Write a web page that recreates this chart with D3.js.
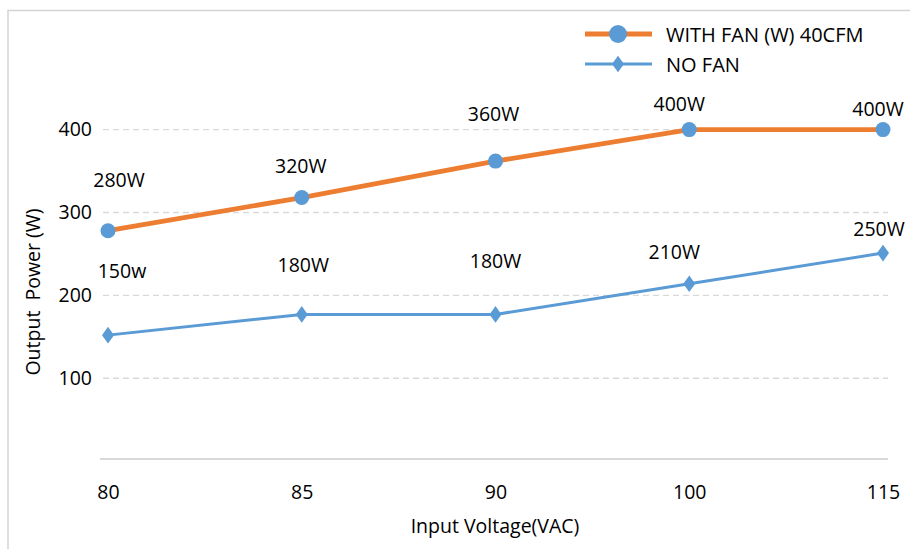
<!DOCTYPE html>
<html>
<head>
<meta charset="utf-8">
<script src="https://cdn.jsdelivr.net/npm/d3@7/dist/d3.min.js"></script>
<style>
  html, body { margin: 0; padding: 0; background: #fff; }
  svg { display: block; }
  text { font-family: "Open Sans", "Noto Sans", sans-serif; fill: #000; }
</style>
</head>
<body>
<svg id="chart" width="910" height="549"></svg>
<script>
// ---- data ----
const categories = ["80", "85", "90", "100", "115"];
const withFan = [278, 318, 362, 400, 400];
const noFan = [152, 177, 177, 214, 251];
const withFanLabels = ["280W", "320W", "360W", "400W", "400W"];
const noFanLabels = ["150w", "180W", "180W", "210W", "250W"];
const yTicks = [100, 200, 300, 400];
const seriesNames = ["WITH FAN (W) 40CFM", "NO FAN"];

// ---- layout (hand-placed label offsets, px) ----
const withFanLabelOffsets = [[11, -51], [-1, -32], [-2, -48], [-10, -26], [-5, -21]];
const noFanLabelOffsets = [[14, -65], [1.5, -50], [0, -54], [-15, -32], [-4, -25]];
const FS = 19.5;

const orange = "#ED7D31", blue = "#5B9BD5";
const svg = d3.select("#chart");

// border
svg.append("path").attr("d", "M8,549 V10.5 H910")
  .attr("fill", "none").attr("stroke", "#d4d4d4").attr("stroke-width", 1.5);

const x = d3.scalePoint().domain(categories).range([108, 883]);
const y = d3.scaleLinear().domain([0, 400]).range([461.1, 129.6]);

// gridlines
svg.append("g").selectAll("line").data(yTicks).join("line")
  .attr("x1", 103).attr("x2", 888)
  .attr("y1", d => y(d)).attr("y2", d => y(d))
  .attr("stroke", "#d9d9d9").attr("stroke-width", 1.3)
  .attr("stroke-dasharray", "6,4");

// y axis labels
const yAxis = d3.axisLeft(y).tickValues(yTicks).tickSize(0).tickPadding(0);
const gy = svg.append("g").attr("transform", "translate(92,0)").call(yAxis);
gy.select(".domain").remove();
gy.selectAll("text").attr("font-size", FS).attr("font-family", "Open Sans").attr("fill", "#000");

// x axis
const xAxis = d3.axisBottom(x).tickSize(0).tickPadding(0);
const gx = svg.append("g").attr("transform", "translate(0,459)").call(xAxis);
gx.select(".domain").remove();
gx.append("line").attr("x1", 100).attr("x2", 888).attr("y1", 0).attr("y2", 0)
  .attr("stroke", "#d9d9d9").attr("stroke-width", 1.8);
gx.selectAll(".tick text").attr("font-size", FS).attr("font-family", "Open Sans")
  .attr("fill", "#000").attr("dy", null).attr("y", 40);

// axis titles
svg.append("text").attr("x", 495).attr("y", 533).attr("text-anchor", "middle")
  .attr("font-size", FS).text("Input Voltage(VAC)");
svg.append("text").attr("transform", "translate(40,292) rotate(-90)")
  .attr("text-anchor", "middle").attr("font-size", FS)
  .attr("xml:space", "preserve").style("white-space", "pre").text("Output  Power (W)");

// lines
const line = d3.line().x((d, i) => x(categories[i])).y(d => y(d));
svg.append("path").datum(noFan).attr("d", line).attr("fill", "none")
  .attr("stroke", blue).attr("stroke-width", 3).attr("stroke-linejoin", "round");
svg.append("path").datum(withFan).attr("d", line).attr("fill", "none")
  .attr("stroke", orange).attr("stroke-width", 4.8).attr("stroke-linejoin", "round");

// markers
const diamond = d3.symbol().type(d3.symbolDiamond).size(80);
svg.append("g").selectAll("path").data(noFan).join("path")
  .attr("d", diamond)
  .attr("transform", (d, i) => `translate(${x(categories[i])},${y(d)}) scale(1.25,1)`)
  .attr("fill", blue);
svg.append("g").selectAll("circle").data(withFan).join("circle")
  .attr("cx", (d, i) => x(categories[i])).attr("cy", d => y(d)).attr("r", 7.5)
  .attr("fill", blue);

// data labels
svg.append("g").selectAll("text").data(withFanLabels).join("text")
  .attr("x", (d, i) => x(categories[i]) + withFanLabelOffsets[i][0])
  .attr("y", (d, i) => y(withFan[i]) + withFanLabelOffsets[i][1])
  .attr("text-anchor", "middle").attr("dominant-baseline", "central")
  .attr("font-size", FS).text(d => d);
svg.append("g").selectAll("text").data(noFanLabels).join("text")
  .attr("x", (d, i) => x(categories[i]) + noFanLabelOffsets[i][0])
  .attr("y", (d, i) => y(noFan[i]) + noFanLabelOffsets[i][1])
  .attr("text-anchor", "middle").attr("dominant-baseline", "central")
  .attr("font-size", FS).text(d => d);

// legend
const lg = svg.append("g");
const rows = [
  { name: seriesNames[0], color: orange, w: 4.8, y: 34, marker: "circle" },
  { name: seriesNames[1], color: blue, w: 3, y: 64, marker: "diamond" }
];
rows.forEach(r => {
  lg.append("line").attr("x1", 585).attr("x2", 652).attr("y1", r.y).attr("y2", r.y)
    .attr("stroke", r.color).attr("stroke-width", r.w);
  if (r.marker === "circle") {
    lg.append("circle").attr("cx", 618).attr("cy", r.y).attr("r", 9).attr("fill", blue);
  } else {
    lg.append("path").attr("d", diamond).attr("transform", `translate(618,${r.y}) scale(1.25,1)`).attr("fill", blue);
  }
  lg.append("text").attr("x", 666).attr("y", r.y).attr("dominant-baseline", "central")
    .attr("font-size", FS + 0.5).text(r.name);
});
</script>
</body>
</html>
